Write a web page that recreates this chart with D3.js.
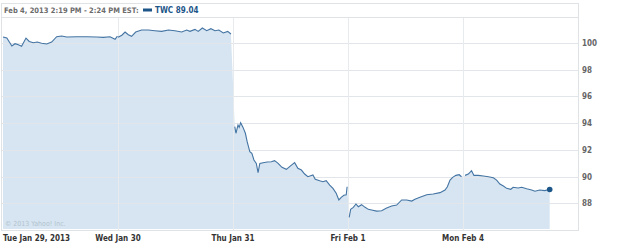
<!DOCTYPE html>
<html>
<head>
<meta charset="utf-8">
<script src="https://cdn.jsdelivr.net/npm/d3@7"></script>
<style>
  body { margin: 0; background: #fff; }
  svg { display: block; font-family: "DejaVu Sans Condensed", "DejaVu Sans", sans-serif; }
</style>
</head>
<body>
<div id="chart"></div>
<script>
// 1: DATA
const dayLabels = ["Tue Jan 29, 2013", "Wed Jan 30", "Thu Jan 31", "Fri Feb 1", "Mon Feb 4"];
const yTicks = [88, 90, 92, 94, 96, 98, 100];

// each session: minutes since the open (session = 390 min) and price
const day0Min = [0, 13, 30, 41, 52, 63, 78, 89, 103, 116, 131, 148, 165, 182, 199, 216, 250, 284, 318, 340, 363, 380, 388];
const day0Px  = [100.45, 100.37, 99.78, 99.95, 99.87, 99.75, 100.37, 100.12, 100.02, 100.07, 99.98, 99.93, 100.07, 100.47, 100.52, 100.45, 100.47, 100.47, 100.45, 100.42, 100.47, 100.28, 100.52];

const day1Min = [0, 13, 24, 35, 46, 60, 80, 103, 125, 148, 171, 193, 216, 233, 244, 261, 272, 286, 301, 315, 329, 342, 357, 372, 383];
const day1Px  = [100.43, 100.58, 100.82, 100.62, 100.50, 100.82, 100.97, 100.97, 100.92, 100.87, 100.97, 100.92, 100.82, 100.97, 100.87, 101.02, 100.87, 101.12, 100.92, 101.07, 100.92, 100.97, 100.75, 100.87, 100.67];

const day2Min = [6, 10, 17, 21, 26, 34, 42, 48, 57, 64, 71, 79, 85, 91, 102, 116, 130, 141, 153, 166, 181, 192, 209, 220, 232, 243, 254, 271, 279, 294, 305, 316, 328, 339, 350, 359, 367, 376, 384, 387];
const day2Px  = [93.74, 93.25, 93.87, 93.69, 94.04, 93.69, 93.25, 92.62, 91.87, 91.75, 91.25, 91.00, 90.30, 91.00, 91.05, 91.10, 91.12, 91.20, 91.00, 90.70, 90.55, 90.75, 91.05, 90.63, 90.50, 90.20, 90.00, 90.13, 89.81, 89.70, 89.63, 89.70, 89.38, 89.13, 88.76, 88.26, 88.46, 88.61, 88.65, 89.25];

const day3Min = [4, 9, 18, 27, 35, 46, 58, 69, 80, 97, 114, 131, 148, 165, 182, 199, 216, 227, 244, 267, 289, 312, 329, 337, 346, 355, 366, 377, 385];
const day3Px  = [86.96, 87.56, 87.71, 87.96, 87.76, 87.91, 87.71, 87.56, 87.51, 87.43, 87.46, 87.66, 87.81, 87.88, 88.26, 88.26, 88.18, 88.31, 88.46, 88.65, 88.71, 88.81, 89.01, 89.25, 89.75, 89.95, 90.10, 90.15, 90.00];

const day4Min = [7, 18, 29, 37, 52, 69, 86, 103, 114, 125, 137, 148, 162, 170, 187, 199, 216, 233, 244, 260, 277, 294];
const day4Px  = [90.10, 90.20, 90.45, 90.10, 90.10, 90.05, 90.00, 89.92, 89.75, 89.45, 89.30, 89.13, 89.06, 89.21, 89.16, 89.21, 89.10, 89.01, 88.91, 89.01, 88.96, 89.04];

const headerText = "Feb 4, 2013 2:19 PM - 2:24 PM EST:";
const seriesLabel = "TWC 89.04";

// 2: BUILD POINTS
const sessions = [[day0Min, day0Px], [day1Min, day1Px], [day2Min, day2Px], [day3Min, day3Px], [day4Min, day4Px]];
const byDay = sessions.map(([mins, px], i) => mins.map((m, j) => ({ t: i + m / 390, v: px[j] })));
const data = byDay.flat();

// 3: SIZE
const W = 625, H = 243;
const frame = { left: 1, right: 578, top: 3, head: 17, bottom: 230 };

const svg = d3.select("#chart").append("svg")
    .attr("width", W)
    .attr("height", H);

// 4: SCALES
const x = d3.scaleLinear().domain([0, 5]).range([3, 578]);
const y = d3.scaleLinear().domain([86.09, 101.945]).range([229, 17]);

// 5: AREA + LINES
const area = d3.area()
    .x(d => x(d.t))
    .y0(229)
    .y1(d => y(d.v));

const line = d3.line()
    .x(d => x(d.t))
    .y(d => y(d.v));

svg.append("path")
    .datum(data)
    .attr("d", area)
    .attr("fill", "#d6e5f1");

// gridlines over the fill
svg.append("g")
    .selectAll("line")
    .data(yTicks)
    .join("line")
    .attr("x1", frame.left).attr("x2", frame.right)
    .attr("y1", d => Math.round(y(d)) + 0.5).attr("y2", d => Math.round(y(d)) + 0.5)
    .attr("stroke", "#e2e6ea");

svg.append("g")
    .selectAll("line")
    .data([1, 2, 3, 4])
    .join("line")
    .attr("x1", d => Math.round(x(d)) + 0.5).attr("x2", d => Math.round(x(d)) + 0.5)
    .attr("y1", frame.head).attr("y2", frame.bottom)
    .attr("stroke", "#e8ebee");

// one line per session, gaps between days stay open
svg.append("g")
    .selectAll("path")
    .data(byDay)
    .join("path")
    .attr("d", line)
    .attr("fill", "none")
    .attr("stroke", "#4474a3")
    .attr("stroke-width", 1.1);

const last = data[data.length - 1];
svg.append("circle")
    .attr("cx", x(last.t))
    .attr("cy", y(last.v))
    .attr("r", 2.8)
    .attr("fill", "#1c5588");

// 6: FRAME
svg.append("rect")
    .attr("x", frame.left + 0.5).attr("y", frame.top + 0.5)
    .attr("width", frame.right - frame.left).attr("height", frame.bottom - frame.top)
    .attr("fill", "none")
    .attr("stroke", "#e0e3e6");

svg.append("line")
    .attr("x1", frame.left).attr("x2", frame.right)
    .attr("y1", frame.head + 0.5).attr("y2", frame.head + 0.5)
    .attr("stroke", "#e0e3e6");

// 7: TEXT
svg.append("text")
    .attr("x", 4).attr("y", 13)
    .attr("font-size", 7.5).attr("font-weight", "bold")
    .attr("fill", "#6b6b6b")
    .text(headerText);

svg.append("rect")
    .attr("x", 143).attr("y", 8.5)
    .attr("width", 9).attr("height", 3)
    .attr("fill", "#1c5588");

svg.append("text")
    .attr("x", 155).attr("y", 13)
    .attr("font-size", 8).attr("font-weight", "bold")
    .attr("fill", "#1c5588")
    .text(seriesLabel);

svg.append("g")
    .selectAll("text")
    .data(yTicks)
    .join("text")
    .attr("x", 582)
    .attr("y", d => y(d) + 3)
    .attr("font-size", 8).attr("font-weight", "bold")
    .attr("fill", "#666")
    .text(d => d);

svg.append("g")
    .selectAll("text")
    .data(dayLabels)
    .join("text")
    .attr("x", (d, i) => i === 0 ? 3 : x(i))
    .attr("y", 241)
    .attr("text-anchor", (d, i) => i === 0 ? "start" : "middle")
    .attr("font-size", 8).attr("font-weight", "bold")
    .attr("fill", "#333")
    .text(d => d);

svg.append("text")
    .attr("x", 5).attr("y", 226)
    .attr("font-size", 7)
    .attr("fill", "#b3c3cf")
    .text("\u00a9 2013 Yahoo! Inc.");
</script>
</body>
</html>
